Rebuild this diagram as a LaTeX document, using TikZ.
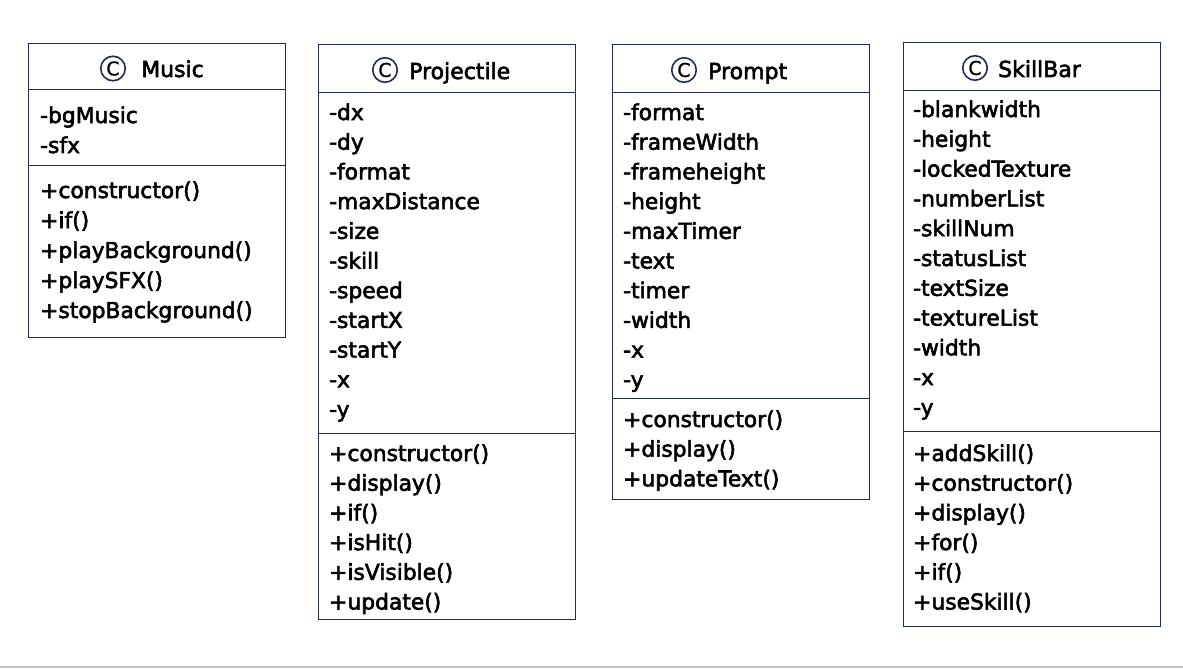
\documentclass[tikz,border=0pt]{standalone}
\usepackage{fontspec}
\setmainfont{DejaVu Sans}
\newfontfamily\uifont{DejaVu Sans}[FakeBold=2.6]
\newfontfamily\cfont{DejaVu Sans}[FakeBold=1]
\definecolor{boxline}{HTML}{1F2D50}
\definecolor{rule}{HTML}{C4C4C4}
\tikzset{
  classbox/.style={draw=boxline, line width=1pt, fill=white},
  sepline/.style={draw=boxline, line width=1pt},
  item/.style={anchor=base west, inner sep=0pt, font=\uifont\fontsize{21.8}{24}\selectfont, text=black},
  ttl/.style={anchor=base west, inner sep=0pt, font=\uifont\fontsize{22}{25}\selectfont, text=black},
  cmark/.style={circle, draw=boxline, line width=1.6pt, minimum size=24.5pt, inner sep=0pt, font=\cfont\fontsize{19}{20}\selectfont}
}
\begin{document}
\begin{tikzpicture}[x=1pt,y=-1pt]
\useasboundingbox (0,0) rectangle (1183,669);
\draw[rule, line width=1.5pt] (0,667) coordinate (r1) -- (1183,667) coordinate (r2);
% Music
\draw[classbox] (28,44) coordinate (mTL) rectangle (285,337) coordinate (mBR);
\draw[sepline] (28,89) coordinate (mS1a) -- (285,89) coordinate (mS1b);
\draw[sepline] (28,165) coordinate (mS2a) -- (285,165) coordinate (mS2b);
\node[cmark] (mC) at (113,68.5) {C};
\node[ttl] (mT) at (141,77) {Music};
\foreach \t [count=\i from 0] in {-bgMusic,-sfx}
  \node[item] (mA\i) at (40,123+\i*30) {\t};
\foreach \t [count=\i from 0] in {+constructor(),+if(),+playBackground(),+playSFX(),+stopBackground()}
  \node[item] (mM\i) at (40,198+\i*30) {\t};
% Projectile
\draw[classbox] (318,45) coordinate (pTL) rectangle (575,619) coordinate (pBR);
\draw[sepline] (318,92) coordinate (pS1a) -- (575,92) coordinate (pS1b);
\draw[sepline] (318,433) coordinate (pS2a) -- (575,433) coordinate (pS2b);
\node[cmark] (pC) at (385,70) {C};
\node[ttl] (pT) at (409,79) {Projectile};
\foreach \t [count=\i from 0] in {-dx,-dy,-format,-maxDistance,-size,-skill,-speed,-startX,-startY,-x,-y}
  \node[item] (pA\i) at (329,120+\i*29.7) {\t};
\foreach \t [count=\i from 0] in {+constructor(),+display(),+if(),+isHit(),+isVisible(),+update()}
  \node[item] (pM\i) at (329,461+\i*29.7) {\t};
% Prompt
\draw[classbox] (612,45) coordinate (qTL) rectangle (869,499) coordinate (qBR);
\draw[sepline] (612,92) coordinate (qS1a) -- (869,92) coordinate (qS1b);
\draw[sepline] (612,398) coordinate (qS2a) -- (869,398) coordinate (qS2b);
\node[cmark] (qC) at (684,70) {C};
\node[ttl] (qT) at (708,79) {Prompt};
\foreach \t [count=\i from 0] in {-format,-frameWidth,-frameheight,-height,-maxTimer,-text,-timer,-width,-x,-y}
  \node[item] (qA\i) at (623,120+\i*29.7) {\t};
\foreach \t [count=\i from 0] in {+constructor(),+display(),+updateText()}
  \node[item] (qM\i) at (623,427+\i*29.7) {\t};
% SkillBar
\draw[classbox] (903,43) coordinate (sTL) rectangle (1160,626) coordinate (sBR);
\draw[sepline] (903,90) coordinate (sS1a) -- (1160,90) coordinate (sS1b);
\draw[sepline] (903,431) coordinate (sS2a) -- (1160,431) coordinate (sS2b);
\node[cmark] (sC) at (975,68) {C};
\node[ttl] (sT) at (998,77) {SkillBar};
\foreach \t [count=\i from 0] in {-blankwidth,-height,-lockedTexture,-numberList,-skillNum,-statusList,-textSize,-textureList,-width,-x,-y}
  \node[item] (sA\i) at (913,117+\i*29.8) {\t};
\foreach \t [count=\i from 0] in {+addSkill(),+constructor(),+display(),+for(),+if(),+useSkill()}
  \node[item] (sM\i) at (913,461+\i*29.7) {\t};
\end{tikzpicture}
\end{document}
